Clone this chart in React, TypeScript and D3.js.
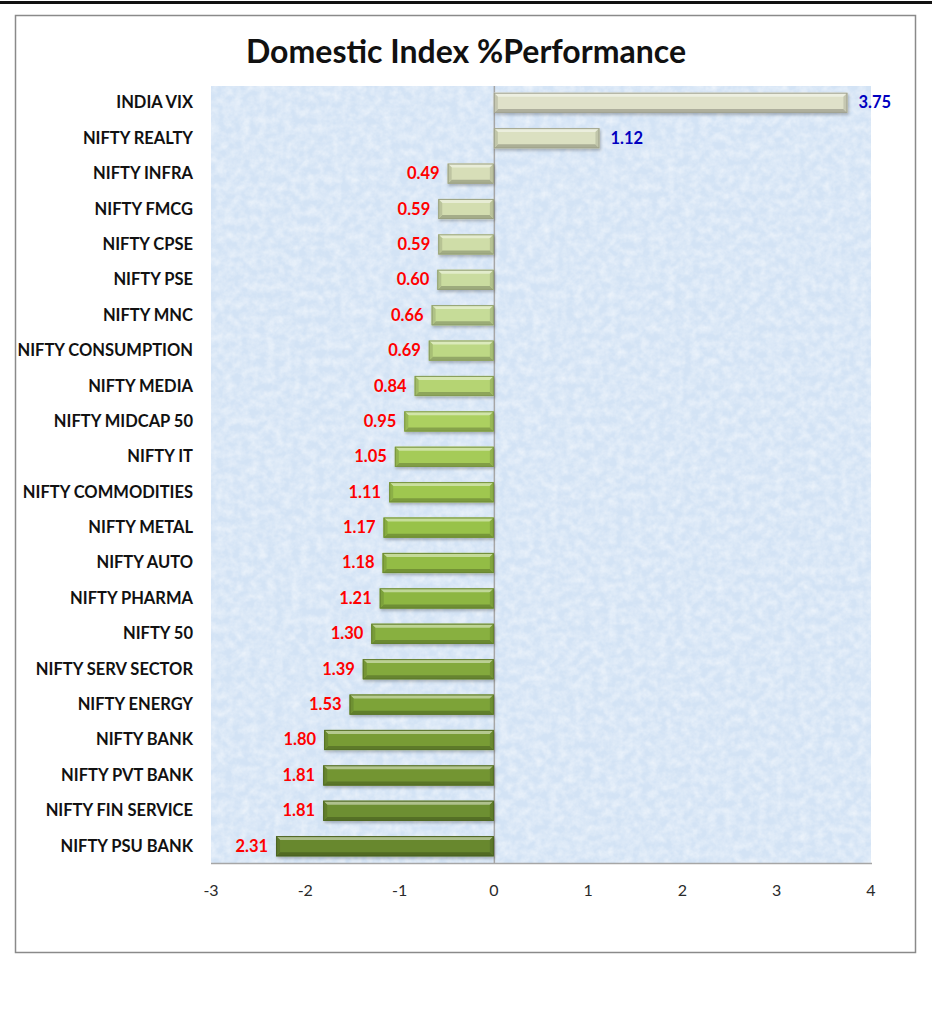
import React, { useEffect, useRef } from 'react';
import * as d3 from 'd3';

const categories = [
  'INDIA VIX', 'NIFTY REALTY', 'NIFTY INFRA', 'NIFTY FMCG', 'NIFTY CPSE', 'NIFTY PSE',
  'NIFTY MNC', 'NIFTY CONSUMPTION', 'NIFTY MEDIA', 'NIFTY MIDCAP 50', 'NIFTY IT',
  'NIFTY COMMODITIES', 'NIFTY METAL', 'NIFTY AUTO', 'NIFTY PHARMA', 'NIFTY 50',
  'NIFTY SERV SECTOR', 'NIFTY ENERGY', 'NIFTY BANK', 'NIFTY PVT BANK',
  'NIFTY FIN SERVICE', 'NIFTY PSU BANK',
];
const values = [
  3.75, 1.12, -0.49, -0.59, -0.59, -0.6, -0.66, -0.69, -0.84, -0.95, -1.05,
  -1.11, -1.17, -1.18, -1.21, -1.3, -1.39, -1.53, -1.8, -1.81, -1.81, -2.31,
];
const xTicks = [-3, -2, -1, 0, 1, 2, 3, 4];
const title = 'Domestic Index %Performance';

const FONT = 'Lato, "Open Sans", sans-serif';

const App: React.FC = () => {
  const svgRef = useRef<SVGSVGElement>(null);

  useEffect(() => {
    if (!svgRef.current) return;
    const svg = d3.select(svgRef.current);
    svg.selectAll('*').remove();

    const W = 932;
    const plot = { left: 211, right: 871, top: 86, bottom: 863 };

    const x = d3.scaleLinear().domain([-3, 4]).range([plot.left, plot.right]);
    const y = d3.scaleBand<string>()
      .domain(categories)
      .range([plot.top, plot.bottom])
      .paddingInner(0.43)
      .paddingOuter(0.19);

    // bar colour runs from pale sage at the top to olive at the bottom
    const shade = d3.piecewise(d3.interpolateRgb, [
      '#dfe1c9', '#d3ddb0', '#c6dc98', '#acd060', '#98c248', '#88b040', '#789c36', '#68882e',
    ]);
    const colorOf = (i: number) => shade(i / (categories.length - 1));

    const defs = svg.append('defs');

    // textured light blue background
    const filt = defs.append('filter').attr('id', 'paper')
      .attr('x', 0).attr('y', 0).attr('width', 1).attr('height', 1);
    filt.append('feTurbulence')
      .attr('type', 'fractalNoise')
      .attr('baseFrequency', 0.12)
      .attr('numOctaves', 3)
      .attr('seed', 11)
      .attr('result', 'noise');
    filt.append('feColorMatrix')
      .attr('in', 'noise')
      .attr('type', 'matrix')
      .attr('values', '0 0 0 0 1  0 0 0 0 1  0 0 0 0 1  1.2 0 0 0 -0.35');

    const shadow = defs.append('filter').attr('id', 'barShadow')
      .attr('x', '-5%').attr('y', '-30%').attr('width', '110%').attr('height', '170%');
    shadow.append('feDropShadow')
      .attr('dx', 1).attr('dy', 2).attr('stdDeviation', 1.5)
      .attr('flood-color', '#000').attr('flood-opacity', 0.25);

    // page rule and frame
    svg.append('rect').attr('x', 0).attr('y', 1).attr('width', W).attr('height', 3).attr('fill', '#111');
    svg.append('rect')
      .attr('x', 15.5).attr('y', 15.5).attr('width', 900).attr('height', 937)
      .attr('fill', '#fff').attr('stroke', '#8a8a8a').attr('stroke-width', 1.5);

    svg.append('text')
      .attr('x', 466).attr('y', 63)
      .attr('text-anchor', 'middle')
      .style('font-family', FONT).style('font-weight', 700).style('font-size', '32px')
      .attr('fill', '#111')
      .text(title);

    // plot area
    svg.append('rect')
      .attr('x', plot.left).attr('y', plot.top)
      .attr('width', plot.right - plot.left).attr('height', plot.bottom - plot.top)
      .attr('fill', '#d3e3f5');
    svg.append('rect')
      .attr('x', plot.left).attr('y', plot.top)
      .attr('width', plot.right - plot.left).attr('height', plot.bottom - plot.top)
      .attr('fill', '#fff')
      .attr('filter', 'url(#paper)')
      .attr('opacity', 0.7);

    // axis lines
    svg.append('line')
      .attr('x1', plot.left).attr('x2', plot.right + 1)
      .attr('y1', plot.bottom + 0.5).attr('y2', plot.bottom + 0.5)
      .attr('stroke', '#a6a6a6').attr('stroke-width', 1.5);
    svg.append('line')
      .attr('x1', x(0) + 0.5).attr('x2', x(0) + 0.5)
      .attr('y1', plot.top).attr('y2', plot.bottom)
      .attr('stroke', '#a6a6a6').attr('stroke-width', 1.5);

    // tick labels
    svg.append('g').selectAll('text')
      .data(xTicks)
      .enter()
      .append('text')
      .attr('x', d => x(d))
      .attr('y', 896)
      .attr('text-anchor', 'middle')
      .style('font-family', FONT).style('font-size', '16px')
      .attr('fill', '#2a2a2a')
      .text(d => String(d));

    // category labels
    svg.append('g').selectAll('text')
      .data(categories)
      .enter()
      .append('text')
      .attr('x', 193)
      .attr('y', d => (y(d) as number) + y.bandwidth() / 2 + 5.5)
      .attr('text-anchor', 'end')
      .style('font-family', FONT).style('font-weight', 700).style('font-size', '16.5px')
      .attr('fill', '#111')
      .text(d => d);

    // bevelled bars
    const b = 4;
    const bars = svg.append('g').selectAll('g')
      .data(values.map((v, i) => ({ v, i, cat: categories[i] })))
      .enter()
      .append('g')
      .attr('filter', 'url(#barShadow)');

    bars.each(function (d) {
      const g = d3.select(this);
      const x0 = Math.min(x(0), x(d.v));
      const x1 = Math.max(x(0), x(d.v));
      const y0 = y(d.cat) as number;
      const y1 = y0 + y.bandwidth();
      const c = d3.color(colorOf(d.i)) as d3.RGBColor;
      const light = d3.interpolateRgb(c.formatHex(), '#ffffff')(0.45);
      const dark = c.darker(0.7).formatHex();
      const mid = c.darker(0.35).formatHex();
      const poly = (pts: [number, number][], fill: string) =>
        g.append('polygon').attr('points', pts.map(p => p.join(',')).join(' ')).attr('fill', fill);

      g.append('rect')
        .attr('x', x0).attr('y', y0)
        .attr('width', x1 - x0).attr('height', y1 - y0)
        .attr('fill', c.formatHex());
      poly([[x0, y0], [x1, y0], [x1 - b, y0 + b], [x0 + b, y0 + b]], light);
      poly([[x0, y1], [x1, y1], [x1 - b, y1 - b], [x0 + b, y1 - b]], dark);
      poly([[x0, y0], [x0 + b, y0 + b], [x0 + b, y1 - b], [x0, y1]], mid);
      poly([[x1, y0], [x1 - b, y0 + b], [x1 - b, y1 - b], [x1, y1]], mid);
      g.append('rect')
        .attr('x', x0 + 0.5).attr('y', y0 + 0.5)
        .attr('width', x1 - x0 - 1).attr('height', y1 - y0 - 1)
        .attr('fill', 'none')
        .attr('stroke', c.darker(0.9).formatHex())
        .attr('stroke-width', 1);
    });

    // value labels
    svg.append('g').selectAll('text')
      .data(values.map((v, i) => ({ v, cat: categories[i] })))
      .enter()
      .append('text')
      .attr('x', d => (d.v < 0 ? x(d.v) - 8 : x(d.v) + 11))
      .attr('y', d => (y(d.cat) as number) + y.bandwidth() / 2 + 5.5)
      .attr('text-anchor', d => (d.v < 0 ? 'end' : 'start'))
      .style('font-family', FONT).style('font-weight', 700).style('font-size', '16.5px')
      .attr('fill', d => (d.v < 0 ? '#ff0000' : '#0000c0'))
      .text(d => Math.abs(d.v).toFixed(2));
  }, []);

  return (
    <svg
      ref={svgRef}
      width={932}
      height={1015}
      style={{ position: 'absolute', left: 0, top: 0, background: '#fff' }}
    />
  );
};

export default App;
